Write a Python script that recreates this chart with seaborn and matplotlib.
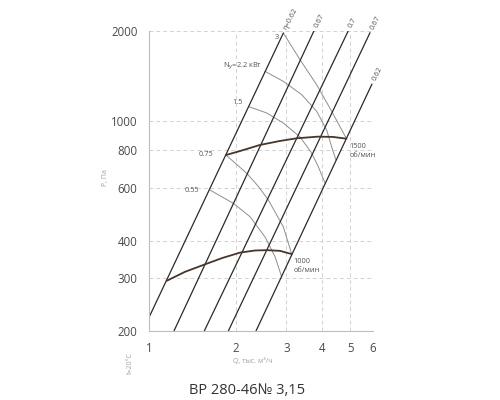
import numpy as np
import pandas as pd
import matplotlib
matplotlib.use("Agg")
import matplotlib.pyplot as plt
import seaborn as sns

sns.set_style("white")
plt.rcParams['font.family'] = ['Open Sans', 'DejaVu Sans']

# ---- data (Q in thousand m3/h, P in Pa) ----
# system / efficiency lines
line_q_start = [1.0, 1.221, 1.556, 1.886, 2.353]
line_p_start = [222, 200, 200, 200, 200]
line_q_end = [2.93, 3.74, 4.92, 5.86, 5.95]
line_p_end = [1970, 2000, 2000, 1975, 1331]
eff_labels = ["η=0.62", "0.67", "0.7", "0.67", "0.62"]

# fan curves
q_1500 = [1.851, 2.071, 2.429, 2.851, 3.266, 3.864, 4.356, 4.853]
p_1500 = [772, 796, 834, 860, 878, 889, 887, 875]
q_1000 = [1.152, 1.334, 1.544, 1.793, 2.07, 2.334, 2.564, 2.851, 3.131]
p_1000 = [294, 315, 332, 350, 365, 371, 372, 370, 361]

# power lines
q_n3 = [2.928, 3.346, 3.824, 4.311, 4.853]
p_n3 = [1970, 1605, 1324, 1080, 875]
q_n22 = [2.528, 2.928, 3.392, 3.824, 4.142, 4.322, 4.462]
p_n22 = [1468, 1359, 1227, 1080, 935, 815, 743]
q_n15 = [2.216, 2.564, 2.928, 3.346, 3.653, 3.864, 4.087]
p_n15 = [1120, 1066, 987, 887, 790, 710, 623]
q_n075 = [1.851, 2.185, 2.391, 2.597, 2.928, 3.131]
p_n075 = [772, 671, 609, 547, 445, 361]
q_n055 = [1.629, 1.963, 2.243, 2.528, 2.74, 2.89]
p_n055 = [590, 533, 481, 412, 354, 303]
power_labels = ["3", "N$_{у}$=2.2 кВт", "1.5", "0.75", "0.55"]

x_ticks = [1, 2, 3, 4, 5, 6]
y_ticks = [200, 300, 400, 600, 800, 1000, 2000]

# ---- figure ----
fig = plt.figure(figsize=(5, 4), dpi=100)
ax = fig.add_axes([0.298, 0.1725, 0.448, 0.75])
ax.set_xscale("log")
ax.set_yscale("log")

# power lines (thin gray)
power_q = [q_n3, q_n22, q_n15, q_n075, q_n055]
power_p = [p_n3, p_n22, p_n15, p_n075, p_n055]
for q, p in zip(power_q, power_p):
    sns.lineplot(x=q, y=p, sort=False, estimator=None, ax=ax,
                 color="#8e8e8e", lw=0.7)

# efficiency lines
for i in range(len(line_q_start)):
    sns.lineplot(x=[line_q_start[i], line_q_end[i]],
                 y=[line_p_start[i], line_p_end[i]],
                 sort=False, estimator=None, ax=ax, color="#2a2a2a", lw=0.9)
    ax.annotate(eff_labels[i], xy=(line_q_end[i], line_p_end[i]),
                xytext=(1.5, 2.5), textcoords="offset points",
                rotation=63, rotation_mode="anchor", ha="left", va="center",
                fontsize=5.3, color="#555555", annotation_clip=False)

# fan curves
sns.lineplot(x=q_1500, y=p_1500, sort=False, estimator=None, ax=ax,
             color="#4a3526", lw=1.3)
sns.lineplot(x=q_1000, y=p_1000, sort=False, estimator=None, ax=ax,
             color="#4a3526", lw=1.3)

# power labels
label_offsets = [(-3, -3), (-2, 3.5), (-4, 3), (-9, 0.5), (-8, 0)]
for q, p, lab, off in zip(power_q, power_p, power_labels, label_offsets):
    ax.annotate(lab, xy=(q[0], p[0]), xytext=off, textcoords="offset points",
                ha="right", va="center", fontsize=5.3, color="#555555")

ax.annotate("1500\nоб/мин", xy=(q_1500[-1], p_1500[-1]), xytext=(2, -3),
            textcoords="offset points", ha="left", va="top", fontsize=5.3,
            color="#555555", linespacing=1.5, annotation_clip=False)
ax.annotate("1000\nоб/мин", xy=(q_1000[-1], p_1000[-1]), xytext=(1.5, -2.5),
            textcoords="offset points", ha="left", va="top", fontsize=5.3,
            color="#555555", linespacing=1.5)

# axes styling
ax.set_xlim(1, 6)
ax.set_ylim(200, 2000)
ax.set_xticks(x_ticks)
ax.set_xticklabels([str(t) for t in x_ticks])
ax.set_yticks(y_ticks)
ax.set_yticklabels([str(t) for t in y_ticks])
ax.minorticks_off()
ax.grid(True, which="major", ls=(0, (4, 3)), color="#d2d2d2", lw=0.7)
ax.tick_params(direction="out", length=4.3, width=0.7, color="#cccccc",
               labelsize=8.3, labelcolor="#4a4a4a")
ax.tick_params(axis="y", pad=4)
ax.tick_params(axis="x", pad=3.5)
for side in ["top", "right"]:
    ax.spines[side].set_visible(False)
for side in ["left", "bottom"]:
    ax.spines[side].set_color("#bdbdbd")
    ax.spines[side].set_linewidth(0.8)
ax.set_xlabel("")
ax.set_ylabel("")

# outer texts
fig.text(0.21, 0.555, "Р, Па", rotation=90, ha="center", va="center",
         fontsize=5, color="#a0a0a0")
fig.text(0.506, 0.0975, "Q, тыс. м³/ч", ha="center", va="center",
         fontsize=5, color="#a0a0a0")
fig.text(0.26, 0.0925, "t=20°C", rotation=90, ha="center", va="center",
         fontsize=5, color="#a0a0a0")
fig.text(0.494, 0.025, "ВР 280-46№ 3,15", ha="center", va="center",
         fontsize=10.5, color="#333333")

fig.savefig("out.png", dpi=100)
